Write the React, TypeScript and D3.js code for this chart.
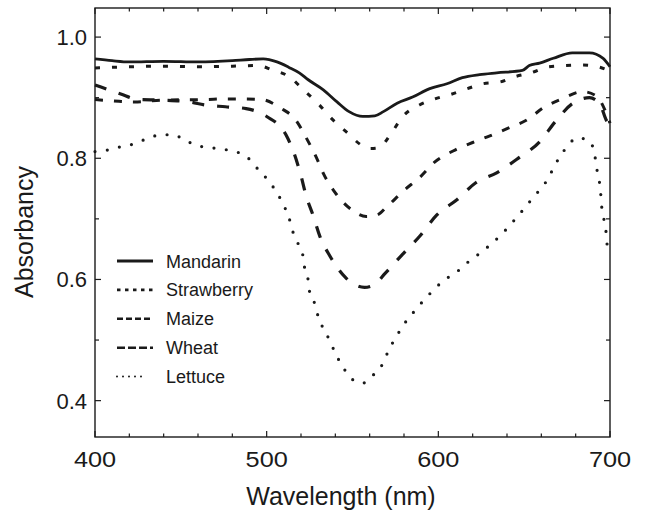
import React from 'react';
import * as d3 from 'd3';

// absorbance spectra: [wavelength nm, absorbancy]
const mandarin: [number, number][] = [
  [400, 0.964], [410, 0.961], [420, 0.959], [440, 0.960], [460, 0.959], [480, 0.961],
  [490, 0.963], [498, 0.964], [506, 0.959], [513, 0.950], [519, 0.941], [524, 0.930],
  [533, 0.913], [541, 0.893], [548, 0.877], [556, 0.869], [563, 0.870], [568, 0.877],
  [576, 0.891], [585, 0.901], [595, 0.915], [605, 0.923], [614, 0.933], [624, 0.938],
  [634, 0.941], [649, 0.945], [653, 0.953], [659, 0.957], [667, 0.965], [678, 0.974],
  [688, 0.974], [696, 0.965], [700, 0.951],
];

const strawberry: [number, number][] = [
  [400, 0.949], [420, 0.951], [440, 0.952], [460, 0.951], [480, 0.952], [495, 0.953],
  [503, 0.946], [514, 0.933], [521, 0.914], [530, 0.890], [538, 0.865], [547, 0.842],
  [555, 0.822], [560, 0.816], [565, 0.817], [573, 0.843], [579, 0.868], [589, 0.888],
  [598, 0.898], [608, 0.906], [617, 0.915], [626, 0.923], [636, 0.926], [645, 0.935],
  [654, 0.941], [664, 0.951], [674, 0.953], [684, 0.954], [693, 0.951], [700, 0.944],
];

const maize: [number, number][] = [
  [400, 0.897], [414, 0.894], [423, 0.893], [440, 0.896], [465, 0.897], [476, 0.898],
  [486, 0.898], [497, 0.897], [508, 0.883], [517, 0.863], [523, 0.834], [529, 0.801],
  [533, 0.775], [540, 0.743], [550, 0.714], [558, 0.704], [564, 0.706], [570, 0.720],
  [580, 0.747], [589, 0.768], [598, 0.794], [610, 0.814], [620, 0.826], [630, 0.837],
  [641, 0.850], [652, 0.864], [661, 0.883], [672, 0.898], [684, 0.910], [692, 0.903],
  [697, 0.880], [700, 0.858],
];

const wheat: [number, number][] = [
  [400, 0.921], [407, 0.914], [415, 0.906], [425, 0.897], [440, 0.896], [455, 0.893],
  [464, 0.888], [476, 0.885], [488, 0.882], [500, 0.869], [511, 0.840], [516, 0.808],
  [520, 0.771], [523, 0.738], [527, 0.706], [531, 0.671], [537, 0.638], [546, 0.603],
  [557, 0.587], [563, 0.592], [569, 0.610], [579, 0.641], [589, 0.671], [599, 0.706],
  [611, 0.732], [622, 0.760], [634, 0.776], [647, 0.801], [659, 0.827], [668, 0.860],
  [678, 0.890], [688, 0.900], [694, 0.890], [698, 0.862], [700, 0.855],
];

const lettuce: [number, number][] = [
  [400, 0.811], [408, 0.814], [415, 0.819], [423, 0.824], [430, 0.832], [437, 0.838],
  [445, 0.839], [452, 0.831], [459, 0.821], [466, 0.818], [474, 0.815], [482, 0.811],
  [489, 0.801], [494, 0.785], [501, 0.763], [506, 0.743], [510, 0.722], [513, 0.702],
  [515, 0.681], [518, 0.661], [521, 0.641], [522, 0.621], [524, 0.602], [525, 0.580],
  [528, 0.560], [530, 0.539], [533, 0.519], [537, 0.498], [540, 0.478], [544, 0.458],
  [549, 0.437], [556, 0.429], [562, 0.442], [568, 0.463], [571, 0.483], [575, 0.503],
  [579, 0.522], [585, 0.544], [591, 0.564], [597, 0.582], [603, 0.598], [611, 0.613],
  [617, 0.628], [625, 0.645], [631, 0.659], [638, 0.678], [644, 0.697], [650, 0.717],
  [656, 0.738], [662, 0.758], [666, 0.778], [670, 0.799], [675, 0.819], [681, 0.834],
  [688, 0.828], [691, 0.808], [692, 0.787], [693.5, 0.767], [694.5, 0.745], [695, 0.725],
  [696, 0.705], [697.5, 0.685], [698, 0.665], [699.5, 0.645],
];

const seriesNames = ['Mandarin', 'Strawberry', 'Maize', 'Wheat', 'Lettuce'];
const seriesData = [mandarin, strawberry, maize, wheat, lettuce];

const xTicks = d3.range(400, 701, 20);
const xLabels = [400, 500, 600, 700];
const yTicks = d3.range(4, 11).map(d => d / 10);
const yLabels = [0.4, 0.6, 0.8, 1.0];

// line looks: chart dash / legend dash
const styles = [
  { width: 2.8, dash: null, legendDash: null, cap: 'butt' },
  { width: 3, dash: '5 12', legendDash: '3.5 4.5', cap: 'butt' },
  { width: 3, dash: '8 11', legendDash: '6 3', cap: 'butt' },
  { width: 3.2, dash: '12 13', legendDash: '8 3', cap: 'butt' },
  { width: 3.2, dash: '0 12.4', legendDash: '0 6', cap: 'round' },
];

const font = '"Liberation Sans", Arial, Helvetica, sans-serif';
const ink = '#1a1a1a';

const App = () => {
  const x = d3.scaleLinear().domain([400, 700]).range([95, 610]);
  const y = d3.scaleLinear().domain([0.34, 1.048]).range([437, 8]);
  const line = d3
    .line<[number, number]>()
    .x(d => x(d[0]))
    .y(d => y(d[1]))
    .curve(d3.curveMonotoneX);

  const [x0, x1] = x.range();
  const [y0, y1] = y.range();

  return (
    <div style={{ position: 'absolute', left: 0, top: 0 }}>
      <svg width={645} height={511} style={{ display: 'block', background: '#fff' }}>
        <g stroke={ink} fill="none">
          {seriesData.map((data, i) => (
            <path
              key={seriesNames[i]}
              d={line(data) || ''}
              strokeWidth={styles[i].width}
              strokeDasharray={styles[i].dash || undefined}
              strokeLinecap={styles[i].cap as any}
              strokeLinejoin="round"
            />
          ))}
        </g>

        {/* frame with inward ticks on all sides */}
        <rect x={x0} y={y1} width={x1 - x0} height={y0 - y1} fill="none" stroke={ink} strokeWidth={1.4} />
        <g stroke={ink} strokeWidth={1.2}>
          {xTicks.map(t => {
            const len = xLabels.includes(t) ? 6 : 3.5;
            return (
              <g key={'x' + t}>
                <line x1={x(t)} x2={x(t)} y1={y0} y2={y0 - len} />
                <line x1={x(t)} x2={x(t)} y1={y1} y2={y1 + len} />
              </g>
            );
          })}
          {yTicks.map(t => {
            const len = yLabels.includes(t) ? 6 : 4;
            return (
              <g key={'y' + t}>
                <line x1={x0} x2={x0 + len} y1={y(t)} y2={y(t)} />
                <line x1={x1} x2={x1 - len} y1={y(t)} y2={y(t)} />
              </g>
            );
          })}
        </g>

        <g fill={ink} fontFamily={font} fontSize={22}>
          {xLabels.map(t => (
            <text key={'xl' + t} transform={`translate(${x(t)},467) scale(1.15,1)`} textAnchor="middle">
              {t}
            </text>
          ))}
          {yLabels.map(t => (
            <text key={'yl' + t} x={87} y={y(t) + 8} textAnchor="end">
              {d3.format('.1f')(t)}
            </text>
          ))}
        </g>

        <text x={341} y={505} textAnchor="middle" fontFamily={font} fontSize={25} fill={ink}>
          Wavelength (nm)
        </text>
        <text
          transform="translate(33,232) rotate(-90)"
          textAnchor="middle"
          fontFamily={font}
          fontSize={25}
          fill={ink}
        >
          Absorbancy
        </text>

        {/* legend */}
        <g fontFamily={font} fontSize={18} fill={ink}>
          {seriesNames.map((name, i) => {
            const ly = 261 + i * 28.9;
            return (
              <g key={'lg' + name}>
                <line
                  x1={117}
                  x2={i === 4 ? 147 : 153}
                  y1={ly}
                  y2={ly}
                  stroke={ink}
                  strokeWidth={i === 0 ? 2.8 : i === 4 ? 2 : 2.6}
                  strokeDasharray={styles[i].legendDash || undefined}
                  strokeLinecap={styles[i].cap as any}
                />
                <text x={166} y={ly + 6.5}>
                  {name}
                </text>
              </g>
            );
          })}
        </g>
      </svg>
    </div>
  );
};

export default App;
